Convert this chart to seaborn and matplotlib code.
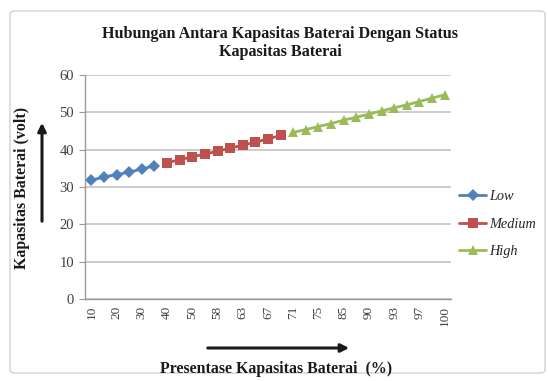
import matplotlib
matplotlib.use("Agg")
import matplotlib.pyplot as plt
from matplotlib.patches import FancyBboxPatch, FancyArrowPatch
import numpy as np
import pandas as pd
import seaborn as sns

# Battery percentage categories (x axis), every second one is labelled
pct_categories = ["10", "15", "20", "25", "30", "35", "40", "45", "50", "54",
                  "58", "60", "63", "65", "67", "69", "71", "73", "75", "77",
                  "85", "87", "90", "92", "93", "95", "97", "98", "100"]

# Battery voltage per status group
low_values = [31.8, 32.7, 33.3, 34.0, 34.8, 35.7]
medium_values = [36.5, 37.3, 38.1, 38.8, 39.6, 40.4, 41.2, 42.0, 42.9, 43.8]
high_values = [44.6, 45.4, 46.2, 47.0, 47.9, 48.7, 49.5, 50.4, 51.2, 52.0,
               52.9, 53.8, 54.7]

status_names = ["Low", "Medium", "High"]
status_colors = ["#4F81BD", "#C0504D", "#9BBB59"]

rows = []
start = 0
for name, vals in zip(status_names, [low_values, medium_values, high_values]):
    for i, v in enumerate(vals):
        rows.append({"pos": start + i, "pct": pct_categories[start + i],
                     "volt": v, "status": name})
    start += len(vals)
df = pd.DataFrame(rows)

sns.set_theme(style="white")
plt.rcParams["font.family"] = ["Liberation Serif", "DejaVu Serif"]

fig = plt.figure(figsize=(5.48, 3.81), dpi=100)
ax = fig.add_axes([85 / 548, 1 - 299 / 381, 366 / 548, 224 / 381])

# Outer chart frame
frame = FancyBboxPatch((10 / 548, 8 / 381), 535 / 548, 362 / 381,
                       boxstyle="round,pad=0,rounding_size=0.008",
                       transform=fig.transFigure, fill=False,
                       edgecolor="#d9d9d9", linewidth=1.2)
fig.patches.append(frame)

sns.lineplot(data=df, x="pos", y="volt", hue="status", style="status",
             hue_order=status_names, style_order=status_names,
             palette=dict(zip(status_names, status_colors)),
             markers={"Low": "D", "Medium": "s", "High": "^"},
             dashes=False, markersize=6.5, markeredgewidth=0, linewidth=2,
             ax=ax, legend=False)

ax.set_xlim(-0.5, len(pct_categories) - 0.5)
ax.set_ylim(0, 60)
ax.set_yticks(np.arange(0, 61, 10))
ax.yaxis.grid(True, color="#c4c4c4", linewidth=1.2)
ax.xaxis.grid(False)
ax.set_axisbelow(True)

label_idx = list(range(0, len(pct_categories), 2))
ax.set_xticks(label_idx)
ax.set_xticklabels([pct_categories[i] for i in label_idx], rotation=90,
                   fontsize=9.5, color="#404040")
ax.set_xticks(np.arange(-0.5, len(pct_categories), 1), minor=True)
ax.tick_params(axis="x", which="major", length=0, pad=5)
ax.tick_params(axis="x", which="minor", length=3, color="#9a9a9a", width=0.8)
ax.tick_params(axis="y", which="major", length=4, color="#9a9a9a", width=0.8,
               labelsize=10.5, labelcolor="#404040", pad=4, left=True)

for side in ["top", "right"]:
    ax.spines[side].set_visible(False)
for side in ["left", "bottom"]:
    ax.spines[side].set_color("#9a9a9a")
    ax.spines[side].set_linewidth(1.0)
ax.set_xlabel("")
ax.set_ylabel("")

# Title
fig.text(280 / 548, 1 - 43 / 381,
         "Hubungan Antara Kapasitas Baterai Dengan Status\nKapasitas Baterai",
         ha="center", va="center", fontsize=11.6, fontweight="bold",
         color="#1a1a1a", linespacing=1.2)

# Axis titles with arrows
fig.text(22 / 548, 1 - 188 / 381, "Kapasitas Baterai (volt)", rotation=90,
         ha="center", va="center", fontsize=11.4, fontweight="bold",
         color="#1a1a1a")
fig.text(276 / 548, 1 - 369 / 381, "Presentase Kapasitas Baterai  (%)",
         ha="center", va="center", fontsize=11.4, fontweight="bold",
         color="#1a1a1a")

up_arrow = FancyArrowPatch((42 / 548, 1 - 224 / 381), (42 / 548, 1 - 120 / 381),
                           transform=fig.transFigure, arrowstyle="-|>",
                           mutation_scale=12, linewidth=2.2, color="#1a1a1a")
right_arrow = FancyArrowPatch((205 / 548, 1 - 348 / 381), (352 / 548, 1 - 348 / 381),
                              transform=fig.transFigure, arrowstyle="-|>",
                              mutation_scale=12, linewidth=2.2, color="#1a1a1a")
fig.patches.extend([up_arrow, right_arrow])

# Legend
handles = [plt.Line2D([], [], color=c, marker=m, markersize=6.5, linewidth=2,
                      markeredgewidth=0)
           for c, m in zip(status_colors, ["D", "s", "^"])]
fig.legend(handles, status_names, loc="center left",
           bbox_to_anchor=(449 / 548, 1 - 224 / 381), frameon=False,
           handlelength=1.9, handletextpad=0.2, labelspacing=1.0,
           borderpad=0.2, prop={"style": "italic", "size": 10.3})

fig.savefig("out.png", dpi=100)
